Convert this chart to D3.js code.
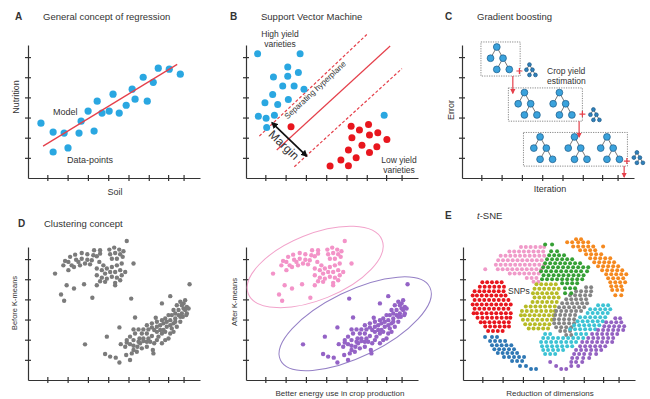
<!DOCTYPE html>
<html>
<head>
<meta charset="utf-8">
<script src="https://cdn.jsdelivr.net/npm/d3@7"></script>
<style>
  html, body { margin: 0; padding: 0; background: #fff; }
  svg { display: block; font-family: "Liberation Sans", Arial, sans-serif; }
</style>
</head>
<body>
<svg id="fig" width="650" height="399"></svg>
<script>
// ---- data (axis units: ticks at ~1..8 on x, 1..6 on y) ----
const xTickValues = [1, 2.05, 3.1, 4.15, 5.2, 6.25, 7.25, 8.05];
const yTickValues = [1, 2, 3, 4, 5, 6];

// A: regression
const regSoil      = [0.67, 1.30, 1.30, 1.87, 2.07, 2.64, 2.75, 3.11, 3.42, 3.58, 3.83, 4.20, 4.40, 4.72, 5.08, 5.39, 5.54, 5.96, 6.17, 6.48, 6.74, 7.31, 7.88];
const regNutrition = [2.72, 2.28, 1.29, 2.23, 1.49, 2.23, 2.82, 3.32, 2.33, 3.81, 3.22, 3.32, 4.16, 3.22, 3.61, 4.41, 3.91, 5.00, 3.81, 4.75, 5.45, 5.40, 5.15];
const regModel = [[0.78, 1.58], [7.72, 5.64]];

// B: support vector machine
const svmHigh = [[0.60, 6.17], [2.80, 6.17], [2.16, 5.51], [1.42, 5.01], [2.16, 5.05], [2.71, 5.23], [1.90, 4.57], [2.49, 4.57], [3.00, 4.41],
  [1.38, 4.14], [2.19, 3.90], [0.98, 3.73], [1.64, 3.65], [0.64, 3.07], [1.04, 2.96], [1.47, 3.12], [1.07, 2.51], [7.15, 3.12]];
const svmLow = [[2.33, 2.54], [5.44, 2.57], [6.34, 2.66], [5.87, 2.38], [5.48, 2.00], [6.39, 2.13], [6.82, 2.24], [7.29, 1.91],
  [6.00, 1.63], [6.77, 1.55], [5.30, 1.39], [6.39, 1.27], [5.70, 1.00], [4.91, 0.89], [5.30, 0.61], [4.35, 0.59]];
const svmHyperplane = [[1.59, 1.39], [7.46, 6.55]];
const svmMarginUpper = [[0.69, 2.08], [6.25, 7.12]];
const svmMarginLower = [[2.50, 0.56], [8.07, 5.43]];
const svmMargin = [[1.35, 2.74], [3.14, 1.09]];

// C: gradient boosting (boxes: x0, y0, x1, y1)
const boostBoxes = [[0.98, 6.75, 3.01, 5.06], [2.40, 4.47, 6.23, 2.82], [3.18, 2.26, 8.56, 0.59]];
const boostTrees = [[1.80, 6.50], [3.23, 4.24], [5.04, 4.24], [4.04, 2.04], [5.82, 2.04], [7.50, 2.04]];
const boostWeak  = [[3.49, 5.63], [6.80, 3.40], [9.05, 1.27]];
const boostPlus  = [[2.97, 5.31], [6.23, 3.17], [8.53, 0.84]];
const boostSteps = [[2.63, 5.06, 4.21], [6.06, 2.82, 2.04], [8.39, 0.59, 0.05]];
const treeShape = { children: [{}, { children: [{}, {}] }] };

// D: clustering (same points before / after K-means)
const kmUpper = [[2.78,6.30],[3.07,6.24],[3.42,6.44],[3.73,6.44],[3.38,6.19],[2.44,6.22],[2.18,6.11],[1.92,5.91],[2.09,5.86],[2.49,5.97],
  [2.78,6.02],[3.07,5.97],[3.30,5.94],[3.56,6.14],[3.73,6.27],[4.21,6.47],[4.46,6.57],[4.72,6.47],[4.94,6.39],[4.25,6.24],[4.51,6.30],
  [4.77,6.24],[4.34,6.02],[4.60,6.02],[4.90,6.11],[5.11,6.90],[5.46,5.78],[3.69,5.86],[3.90,5.69],[3.56,5.53],[3.82,5.45],[4.08,5.53],
  [4.34,5.61],[4.60,5.69],[4.85,5.78],[3.99,5.28],[4.25,5.36],[4.51,5.36],[4.77,5.45],[5.03,5.36],[3.56,5.20],[3.82,5.08],[4.08,5.03],
  [4.34,5.12],[4.60,5.08],[4.85,5.20],[3.73,4.90],[3.99,4.87],[4.51,4.82],[4.77,4.95],[3.56,4.70],[4.51,4.70],[1.83,5.69],[2.09,5.45],
  [2.38,5.61],[2.69,5.69],[2.95,5.78],[3.21,5.74],[2.26,5.69],[2.61,5.86],[1.40,5.28],[2.00,4.70],[2.38,4.54],[2.90,4.75],[1.71,4.24],
  [1.87,3.93],[3.33,4.08]];
const kmLower = [[2.95,1.77],[4.08,2.15],[4.73,2.61],[5.34,4.04],[5.54,3.10],[6.93,3.80],[7.36,4.16],[8.36,4.75],[6.61,3.09],
  [3.99,1.29],[4.25,1.16],[4.54,1.11],[4.73,0.87],[5.08,1.24],[5.28,0.99],[5.37,1.32],[5.46,1.49],
  [4.80,1.78],[5.11,1.86],[5.46,1.98],[5.46,1.70],[5.66,1.65],[5.80,1.82],[5.77,2.06],[5.97,2.06],[5.89,2.31],[6.15,2.31],[6.23,2.06],
  [6.41,2.18],[6.53,2.48],[6.67,2.39],[6.75,2.15],[6.93,2.31],[7.01,2.48],[7.10,1.98],[6.93,1.82],[7.27,2.06],[7.36,2.31],[7.18,2.64],
  [7.44,2.56],[7.53,2.81],[7.36,2.97],[7.62,3.05],[7.79,3.22],[7.96,3.30],[8.13,3.47],[8.05,3.80],[8.22,3.63],[8.13,3.96],[7.88,3.88],
  [7.70,3.71],[7.53,3.47],[7.27,3.22],[7.10,3.05],[6.93,2.97],[7.01,2.81],[6.84,2.72],[6.67,2.64],[6.41,2.61],[6.23,2.51],[5.97,2.51],
  [5.72,2.51],[5.46,2.51],[5.54,2.31],[5.28,2.15],[5.11,1.98],[5.63,1.40],[5.89,1.57],[6.15,1.65],[6.46,1.49],[6.49,1.32],[5.97,1.93],
  [6.32,1.90],[7.53,2.39],[7.70,2.64],[7.88,2.89],[8.01,3.14],[8.19,3.22],[8.31,3.55],[8.22,3.30],[7.79,3.47],[7.62,3.30],[7.44,3.22],
  [7.18,2.89],[6.67,2.89],[6.41,2.81],[6.15,2.72],[5.03,1.65],[5.28,1.78],[5.72,1.90],[6.15,1.90],[6.53,1.82],[6.67,1.98],[6.84,2.48],
  [7.10,2.39],[7.36,2.72],[7.62,2.89],[7.88,3.14],[8.05,3.55],[7.96,3.71]];
// cluster envelopes after K-means: centre x, centre y, half-length, half-width, tilt (deg)
const kmEnvelopeUpper = [3.58, 5.61, 3.73, 1.63, -22];
const kmEnvelopeLower = [5.65, 2.79, 4.30, 1.63, -26];

// E: t-SNE clusters, rows of [y, x, x, ...]
const tsnePink = [
  [6.60, 3.0, 3.25, 3.5, 3.75, 4.0, 4.2],
  [6.38, 2.4, 2.65, 2.9, 3.15, 3.4, 3.65, 3.9, 4.15],
  [6.16, 1.95, 2.2, 2.45, 2.7, 2.95, 3.2, 3.45, 3.7, 3.95, 4.2],
  [5.94, 1.82, 2.07, 2.32, 2.57, 2.82, 3.07, 3.32, 3.57, 3.82, 4.07],
  [5.72, 1.7, 1.95, 2.2, 2.45, 2.7, 2.95, 3.2, 3.45, 3.7, 3.95, 4.2],
  [5.50, 1.15, 1.8, 2.05, 2.3, 2.55, 2.8, 3.05, 3.3, 3.55, 3.8, 4.05],
  [5.28, 2.42, 2.67, 2.92, 3.17, 3.42, 3.67, 3.92],
  [5.06, 3.3, 3.55, 3.8],
  [4.88, 3.65, 3.9]];
const tsneRed = [
  [4.85, 1.0, 1.25, 1.5, 1.75, 2.0],
  [4.63, 0.87, 1.12, 1.37, 1.62, 1.87, 2.12],
  [4.41, 0.6, 0.85, 1.1, 1.35, 1.6, 1.85, 2.1],
  [4.19, 0.5, 0.72, 0.97, 1.22, 1.47, 1.72, 1.97, 2.2],
  [3.97, 0.6, 0.85, 1.1, 1.35, 1.6, 1.85, 2.1, 2.35],
  [3.75, 0.5, 0.72, 0.97, 1.22, 1.47, 1.72, 1.97, 2.22, 2.47],
  [3.53, 0.6, 0.85, 1.1, 1.35, 1.6, 1.85, 2.1, 2.35],
  [3.31, 0.55, 0.72, 0.97, 1.22, 1.47, 1.72, 1.97, 2.22, 2.47],
  [3.09, 0.75, 1.0, 1.25, 1.5, 1.75, 2.0, 2.25, 2.45],
  [2.87, 0.92, 1.12, 1.37, 1.62, 1.87, 2.12, 2.37],
  [2.65, 1.15, 1.4, 1.65, 1.9, 2.15, 2.38],
  [2.43, 1.3, 1.55, 1.8, 2.05]];
const tsneBlue = [
  [2.13, 1.14, 1.5, 1.76],
  [1.93, 1.4, 1.66, 1.92, 2.18],
  [1.73, 1.5, 1.75, 2.0, 2.25, 2.5],
  [1.53, 1.62, 1.87, 2.12, 2.38, 2.64],
  [1.34, 1.8, 2.05, 2.3, 2.55, 2.8],
  [1.14, 2.12, 2.38, 2.64, 2.9, 3.16],
  [0.94, 2.54, 2.8, 3.06],
  [0.69, 2.95, 3.26],
  [0.54, 3.52, 3.78]];
const tsneOlive = [
  [4.75, 3.8, 4.05, 4.3, 4.55, 4.8],
  [4.53, 3.7, 3.95, 4.2, 4.45, 4.7, 4.95],
  [4.31, 3.62, 3.85, 4.1, 4.35, 4.6, 4.85],
  [4.09, 3.7, 3.95, 4.2, 4.45, 4.7, 4.95],
  [3.87, 3.6, 3.85, 4.1, 4.35, 4.6, 4.85],
  [3.65, 3.25, 3.5, 3.75, 4.0, 4.25, 4.5, 4.75],
  [3.43, 3.05, 3.3, 3.55, 3.8, 4.05, 4.3, 4.55, 4.75],
  [3.21, 3.0, 3.2, 3.45, 3.7, 3.95, 4.2, 4.45, 4.68],
  [2.99, 3.1, 3.35, 3.6, 3.85, 4.1, 4.35, 4.6],
  [2.77, 3.22, 3.47, 3.72, 3.97, 4.22, 4.47],
  [2.55, 3.4, 3.65, 3.9, 4.15, 4.4]];
const tsneGray = [
  [4.60, 6.37, 6.63],
  [4.41, 5.85, 6.11, 6.37, 6.63],
  [4.21, 5.54, 5.8, 6.06, 6.32, 6.58],
  [4.01, 5.34, 5.6, 5.85, 6.11, 6.37],
  [3.81, 5.13, 5.39, 5.65, 5.91, 6.17, 6.42],
  [3.61, 4.97, 5.23, 5.49, 5.75, 6.01, 6.27],
  [3.42, 4.82, 5.08, 5.34, 5.6, 5.85, 6.11],
  [3.22, 4.77, 5.03, 5.28, 5.54, 5.8],
  [3.02, 4.72, 4.97, 5.23, 5.49, 5.75],
  [2.82, 4.72, 4.97, 5.23, 5.49, 5.75],
  [2.62, 4.82, 5.08, 5.34, 5.6],
  [2.43, 5.03, 5.28, 5.54],
  [2.23, 5.34, 5.6]];
const tsneGreen = [
  [6.73, 4.25, 4.61],
  [6.39, 4.56, 4.87],
  [6.19, 4.46, 4.72, 4.97, 5.23],
  [5.99, 4.35, 4.61, 4.87, 5.13, 5.39, 5.65],
  [5.79, 4.25, 4.51, 4.77, 5.03, 5.28, 5.54, 5.8, 6.06],
  [5.59, 4.15, 4.4, 4.66, 4.92, 5.18, 5.44, 5.7, 5.96, 6.22, 6.48],
  [5.40, 4.04, 4.3, 4.56, 4.82, 5.08, 5.34, 5.6, 5.85, 6.11, 6.42],
  [5.20, 4.17, 4.43, 4.69, 4.95, 5.2, 5.46, 5.72, 5.98, 6.24],
  [5.00, 4.09, 4.35, 4.61, 4.87, 5.13, 5.39, 5.65, 5.91, 6.17],
  [4.80, 5.13, 5.39, 5.65, 5.91],
  [4.55, 5.28, 5.54, 5.8],
  [4.31, 5.28, 5.6]];
const tsneOrange = [
  [6.98, 5.85, 6.11],
  [6.83, 5.39, 5.65, 5.96, 6.22, 6.48],
  [6.63, 5.7, 5.96, 6.22, 6.48, 6.74, 7.25],
  [6.44, 6.06, 6.32, 6.58, 6.84],
  [6.24, 6.37, 6.63, 6.89, 7.15],
  [6.04, 6.58, 6.84, 7.1, 7.36, 7.62],
  [5.84, 6.79, 7.05, 7.31, 7.56, 7.82],
  [5.64, 6.99, 7.25, 7.51, 7.77, 8.03],
  [5.45, 7.2, 7.46, 7.72, 7.98, 8.24],
  [5.25, 7.41, 7.67, 7.93, 8.19, 8.45],
  [5.05, 7.51, 7.77, 8.03, 8.29],
  [4.85, 7.62, 7.88, 8.13, 8.39],
  [4.65, 7.67, 7.93, 8.19],
  [4.46, 7.72, 7.98, 8.24],
  [4.21, 7.88, 8.19]];
const tsneCyan = [
  [3.71, 6.99, 7.25, 7.51],
  [3.51, 6.58, 6.84, 7.1, 7.36, 7.62],
  [3.32, 6.45, 6.71, 6.97, 7.23, 7.49],
  [3.12, 6.06, 6.32, 6.58, 6.84, 7.1, 7.36],
  [2.92, 5.93, 6.19, 6.45, 6.71, 6.97, 7.23],
  [2.72, 5.75, 6.01, 6.27, 6.53, 6.79, 7.05],
  [2.52, 5.54, 5.8, 6.06, 6.32, 6.58, 6.84],
  [2.28, 4.25, 4.51, 5.85, 6.11, 6.37],
  [2.08, 4.15, 4.4, 4.66, 4.92, 5.18, 5.44, 5.7, 5.96, 6.22],
  [1.88, 4.04, 4.3, 4.56, 4.82, 5.08, 5.34, 5.6, 5.85],
  [1.68, 4.09, 4.35, 4.61, 4.87, 5.13, 5.39, 5.65],
  [1.49, 4.15, 4.4, 4.66, 4.92, 5.18],
  [1.29, 4.25, 4.51, 4.77]];
const tsnePurple = [
  [3.07, 7.88, 8.13],
  [2.87, 7.41, 7.67, 7.93, 8.19],
  [2.67, 7.31, 7.56, 7.82, 8.08, 8.34],
  [2.48, 6.99, 7.25, 7.51, 7.77, 8.03, 8.29],
  [2.28, 6.68, 6.94, 7.2, 7.46, 7.72, 7.98],
  [2.08, 6.48, 6.74, 6.99, 7.25, 7.51, 7.77],
  [1.88, 6.17, 6.42, 6.68, 6.94, 7.2, 7.46, 7.72],
  [1.68, 6.06, 6.32, 6.58, 6.84, 7.1, 7.36],
  [1.49, 5.85, 6.11, 6.37, 6.63, 6.89, 7.15],
  [1.29, 5.75, 6.01, 6.27, 6.58, 6.89],
  [1.09, 5.65, 5.91, 6.22, 6.53],
  [0.89, 4.51, 5.6, 5.85, 6.17],
  [0.69, 4.82, 5.6, 5.96],
  [0.54, 5.08, 5.34]];

// ---- styling ----
const AXIS = "#333", TEXT = "#333";
const BLUE = "#2aa7e1", RED = "#e8161e", LINE_RED = "#e5404b";

const svg = d3.select("#fig");

const defs = svg.append("defs");
defs.append("marker").attr("id", "headRed")
  .attr("viewBox", "0 0 10 10").attr("refX", 8).attr("refY", 5)
  .attr("markerWidth", 4.5).attr("markerHeight", 4.5).attr("orient", "auto")
  .append("path").attr("d", "M0,0L10,5L0,10z").attr("fill", LINE_RED);
defs.append("marker").attr("id", "headBlack")
  .attr("viewBox", "0 0 10 10").attr("refX", 8).attr("refY", 5)
  .attr("markerWidth", 4).attr("markerHeight", 4).attr("orient", "auto-start-reverse")
  .append("path").attr("d", "M0,0L10,5L0,10z").attr("fill", "#111");

function panel(ox, oy) {
  const x = d3.scaleLinear().domain([0, 8.9]).range([ox, ox + 172]);
  const y = d3.scaleLinear().domain([0, 6.6]).range([oy, oy - 133]);
  const g = svg.append("g");
  g.append("g").attr("transform", `translate(0,${oy})`)
    .call(d3.axisBottom(x).tickValues(xTickValues).tickSize(3).tickSizeOuter(0).tickFormat(""))
    .call((a) => { a.selectAll("text").remove(); a.selectAll(".tick line").attr("y1", -3).attr("y2", 3); });
  g.append("g").attr("transform", `translate(${ox},0)`)
    .call(d3.axisLeft(y).tickValues(yTickValues).tickSize(3).tickSizeOuter(0).tickFormat(""))
    .call((a) => { a.selectAll("text").remove(); a.selectAll(".tick line").attr("x1", 3).attr("x2", -3); });
  g.selectAll(".domain, .tick line").attr("stroke", AXIS).attr("stroke-width", 1.2);
  return { x, y, g };
}

function text(str, x, y, o = {}) {
  const t = svg.append("text").attr("x", x).attr("y", y).text(str)
    .attr("fill", o.fill || TEXT).attr("font-size", o.size || 9.5)
    .attr("text-anchor", o.anchor || "start");
  if (o.bold) t.attr("font-weight", "bold");
  if (o.rotate != null) t.attr("transform", `rotate(${o.rotate},${x},${y})`);
  return t;
}

function segment(p, s, pts) {
  return p.g.append("line")
    .attr("x1", p.x(pts[0][0])).attr("y1", p.y(pts[0][1]))
    .attr("x2", p.x(pts[1][0])).attr("y2", p.y(pts[1][1]))
    .attr("stroke", s.stroke).attr("stroke-width", s.width || 1.2)
    .attr("stroke-dasharray", s.dash || null);
}

function dots(p, data, r, fill) {
  p.g.append("g").selectAll("circle").data(data).join("circle")
    .attr("cx", (d) => p.x(d[0])).attr("cy", (d) => p.y(d[1]))
    .attr("r", r).attr("fill", fill);
}

function rows(rs) {
  return rs.flatMap(([y, ...xs]) => xs.map((x) => [x, y]));
}

// ---- A: regression ----
const A = panel(28, 178);
dots(A, d3.zip(regSoil, regNutrition), 3.6, BLUE);
segment(A, { stroke: LINE_RED, width: 1.3 }, regModel);
text("A", 15, 20, { bold: true, size: 10 });
text("General concept of regression", 43, 20);
text("Nutrition", 19, 97, { anchor: "middle", rotate: -90, size: 9 });
text("Soil", 115, 195, { anchor: "middle", size: 9 });
text("Model", 53, 115, { size: 9 });
text("Data-points", 67, 163, { size: 9 });

// ---- B: SVM ----
const B = panel(246, 178);
segment(B, { stroke: LINE_RED, width: 1.2 }, svmHyperplane);
segment(B, { stroke: LINE_RED, width: 1.2, dash: "3,2" }, svmMarginUpper);
segment(B, { stroke: LINE_RED, width: 1.2, dash: "3,2" }, svmMarginLower);
dots(B, svmHigh, 3.5, BLUE);
dots(B, svmLow, 3.5, RED);
segment(B, { stroke: "#111", width: 1.7 }, svmMargin)
  .attr("marker-start", "url(#headBlack)").attr("marker-end", "url(#headBlack)");
text("B", 230, 20, { bold: true, size: 10 });
text("Support Vector Machine", 261, 20);
text("High yield", 280, 37, { anchor: "middle", size: 8.5 });
text("varieties", 280, 47, { anchor: "middle", size: 8.5 });
text("Low yield", 399, 163, { anchor: "middle", size: 8.5 });
text("varieties", 399, 173, { anchor: "middle", size: 8.5 });
text("Separating hyperplane", 317, 92, { anchor: "middle", rotate: -43, size: 8 });
text("Margin", 281, 148, { anchor: "middle", rotate: 44, size: 12 });

// ---- C: gradient boosting ----
const C = panel(462, 178);
C.g.append("g").selectAll("rect").data(boostBoxes).join("rect")
  .attr("x", (b) => C.x(b[0])).attr("y", (b) => C.y(b[1]))
  .attr("width", (b) => C.x(b[2]) - C.x(b[0])).attr("height", (b) => C.y(b[3]) - C.y(b[1]))
  .attr("fill", "none").attr("stroke", "#6b6b6b").attr("stroke-width", 0.8).attr("stroke-dasharray", "1.2,1.2");

function drawTree(g, cx, cy, size, r, fill) {
  const root = d3.tree().nodeSize(size)(d3.hierarchy(treeShape));
  const t = g.append("g").attr("transform", `translate(${cx},${cy})`);
  t.selectAll("line").data(root.links()).join("line")
    .attr("x1", (l) => l.source.x).attr("y1", (l) => l.source.y)
    .attr("x2", (l) => l.target.x).attr("y2", (l) => l.target.y)
    .attr("stroke", "#555").attr("stroke-width", 0.8);
  t.selectAll("circle").data(root.descendants()).join("circle")
    .attr("cx", (n) => n.x).attr("cy", (n) => n.y).attr("r", r)
    .attr("fill", fill).attr("stroke", "#1d5a86").attr("stroke-width", 0.7);
}
boostTrees.forEach(([tx, ty]) => drawTree(C.g, C.x(tx), C.y(ty), [12.5, 11.2], 3.4, "#3aa2dc"));
boostWeak.forEach(([tx, ty]) => drawTree(C.g, C.x(tx), C.y(ty), [6, 5.2], 1.9, "#2f80bb"));
C.g.append("g").selectAll("path").data(boostPlus).join("path")
  .attr("d", (p) => `M${C.x(p[0]) - 3},${C.y(p[1])}h6M${C.x(p[0])},${C.y(p[1]) - 3}v6`)
  .attr("stroke", LINE_RED).attr("stroke-width", 1.2);
C.g.append("g").selectAll("line").data(boostSteps).join("line")
  .attr("x1", (s) => C.x(s[0])).attr("y1", (s) => C.y(s[1]))
  .attr("x2", (s) => C.x(s[0])).attr("y2", (s) => C.y(s[2]))
  .attr("stroke", LINE_RED).attr("stroke-width", 1.2).attr("marker-end", "url(#headRed)");
text("C", 445, 20, { bold: true, size: 10 });
text("Gradient boosting", 477, 20);
text("Crop yield", 547, 74, { size: 8.5 });
text("estimation", 547, 84, { size: 8.5 });
text("Error", 454, 110, { anchor: "middle", rotate: -90, size: 9 });
text("Iteration", 550, 192, { anchor: "middle", size: 9 });

// ---- D: clustering ----
const D = panel(28, 380);
dots(D, kmUpper.concat(kmLower), 2.2, "#7b7b7b");
text("D", 18, 227, { bold: true, size: 10 });
text("Clustering concept", 44, 227);
text("Before K-means", 17, 303, { anchor: "middle", rotate: -90, size: 7.5 });

const D2 = panel(246, 380);
function envelope(p, e, stroke) {
  const [cx, cy, a, b, tilt] = e;
  const px = p.x(cx), py = p.y(cy);
  p.g.append("ellipse").attr("cx", px).attr("cy", py)
    .attr("rx", p.x(a) - p.x(0)).attr("ry", p.y(0) - p.y(b))
    .attr("transform", `rotate(${tilt},${px},${py})`)
    .attr("fill", "none").attr("stroke", stroke).attr("stroke-width", 1);
}
envelope(D2, kmEnvelopeUpper, "#f2a3cb");
envelope(D2, kmEnvelopeLower, "#9580c6");
dots(D2, kmUpper, 2.2, "#f393c8");
dots(D2, kmLower, 2.2, "#9463c6");
text("After K-means", 237, 302, { anchor: "middle", rotate: -90, size: 7.5 });
text("Better energy use in crop production", 340, 396, { anchor: "middle", size: 8 });

// ---- E: t-SNE ----
const E = panel(463, 380);
const tsne = [
  [tsnePink, "#f09ac9"], [tsneRed, "#e8161e"], [tsneBlue, "#2f78b5"], [tsneOlive, "#b7bb26"],
  [tsneGray, "#858585"], [tsneGreen, "#35a035"], [tsneOrange, "#f5891f"], [tsneCyan, "#3dc3d4"],
  [tsnePurple, "#9462c2"]];
tsne.forEach(([rs, c]) => dots(E, rows(rs), 2, c));
text("E", 445, 219, { bold: true, size: 10 });
const tt = text("", 477, 219);
tt.append("tspan").attr("font-style", "italic").text("t");
tt.append("tspan").text("-SNE");
text("SNPs", 508, 294, { size: 8.5 });
text("Reduction of dimensions", 550, 396, { anchor: "middle", size: 8 });
</script>
</body>
</html>
